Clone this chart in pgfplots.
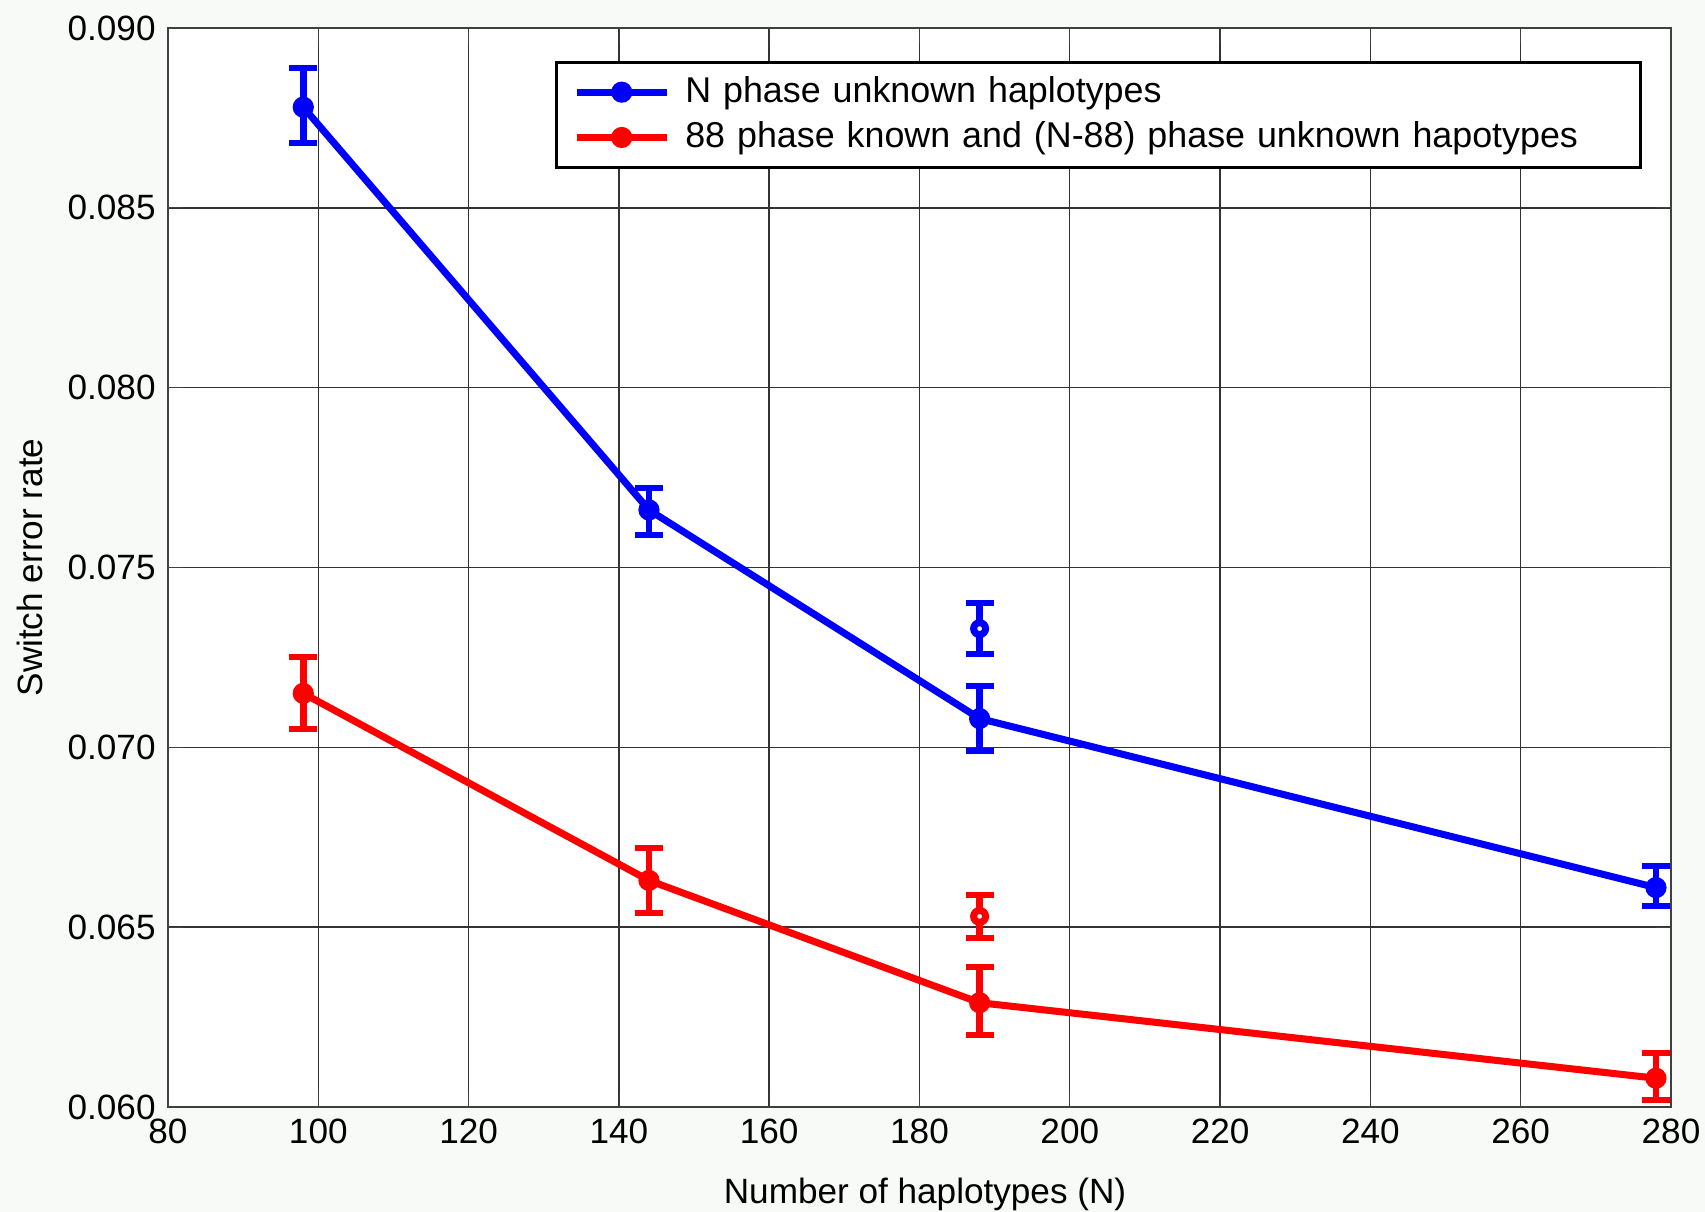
\documentclass[border=0pt]{standalone}
\usepackage{fontspec}
\setmainfont{Liberation Sans}
\usepackage{pgfplots}
\pgfplotsset{compat=1.18}
\definecolor{bgcol}{RGB}{248,250,248}
\begin{document}
\begin{tikzpicture}
\useasboundingbox (-1.68cm,-1.05cm) rectangle (15.37cm,11.07cm);
\fill[bgcol] (-1.68cm,-1.05cm) rectangle (15.37cm,11.07cm);
\begin{axis}[
  at={(0,0)}, anchor=south west,
  scale only axis, width=15.03cm, height=10.79cm,
  axis background/.style={fill=white},
  xmin=80, xmax=280, ymin=0.060, ymax=0.090,
  xtick={80,100,120,140,160,180,200,220,240,260,280},
  ytick={0.060,0.065,0.070,0.075,0.080,0.085,0.090},
  scaled y ticks=false,
  yticklabel style={/pgf/number format/.cd, fixed, fixed zerofill, precision=3},
  /pgf/number format/assume math mode=true,
  tick label style={font=\fontsize{10}{12}\selectfont},
  label style={font=\fontsize{10}{12}\selectfont},
  xlabel={Number of haplotypes (N)},
  ylabel={Switch error rate},
  every axis x label/.style={at={(axis description cs:0.5037,-0.089)}, anchor=base},
  every axis y label/.style={at={(axis description cs:-0.0832,0.5)}, rotate=90, anchor=base},
  grid=major,
  major grid style={black!80, line width=0.4pt},
  axis line style={black!75, line width=0.8pt},
  tick align=inside, major tick length=0.15cm, tick style={black!75},
  legend cell align=left,
  legend style={at={(0.981,0.9695)}, anchor=north east, draw=black, line width=0.9pt,
    font=\fontsize{10.2}{12}\selectfont, row sep=0pt,
    nodes={text width=9.38cm, align=left}},
  legend image code/.code={
    \path (-0.06cm,0cm) (0.98cm,0cm);
    \draw[mark repeat=2, mark phase=2, #1] plot coordinates {(0cm,0cm) (0.45cm,0cm) (0.9cm,0cm)};
  },
  error bars/error bar style={line width=1.9pt},
  error bars/error mark options={rotate=90, mark size=4pt, line width=1.7pt},
]
\addplot[blue, line width=2pt, mark=*, mark size=2pt,
  error bars/.cd, y dir=both, y explicit]
  coordinates {
    (98,0.0878)  += (0,0.0011) -= (0,0.0010)
    (144,0.0766) += (0,0.0006) -= (0,0.0007)
    (188,0.0708) += (0,0.0009) -= (0,0.0009)
    (278,0.0661) += (0,0.0006) -= (0,0.0005)
  };
\addlegendentry{N phase unknown haplotypes}
\addplot[red, line width=2pt, mark=*, mark size=2pt,
  error bars/.cd, y dir=both, y explicit]
  coordinates {
    (98,0.0715)  += (0,0.0010) -= (0,0.0010)
    (144,0.0663) += (0,0.0009) -= (0,0.0009)
    (188,0.0629) += (0,0.0010) -= (0,0.0009)
    (278,0.0608) += (0,0.0007) -= (0,0.0006)
  };
\addlegendentry{88 phase known and (N-88) phase unknown hapotypes}
\addplot[blue, only marks, mark=*, mark size=1.7pt, line width=2pt,
  mark options={fill=white}, forget plot,
  error bars/.cd, y dir=both, y explicit]
  coordinates {
    (188,0.0733) += (0,0.0007) -= (0,0.0007)
  };
\addplot[red, only marks, mark=*, mark size=1.7pt, line width=2pt,
  mark options={fill=white}, forget plot,
  error bars/.cd, y dir=both, y explicit]
  coordinates {
    (188,0.0653) += (0,0.0006) -= (0,0.0006)
  };
\end{axis}
\end{tikzpicture}
\end{document}
